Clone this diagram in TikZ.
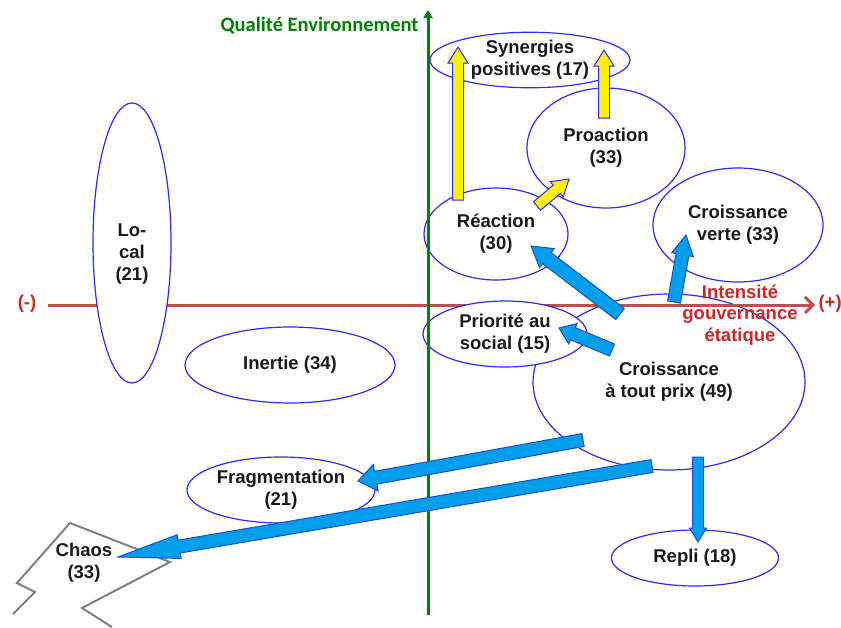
\documentclass[tikz,border=0pt]{standalone}
\usepackage{xcolor}
\usepackage{fontspec}
\setmainfont{Liberation Sans}
\newfontfamily\calibri{Carlito}
\usepackage{tikz}
\usetikzlibrary{arrows.meta, shapes, calc, positioning}

\definecolor{ellblue}{RGB}{45,45,240}
\definecolor{arrowblue}{RGB}{0,158,235}
\definecolor{arrowedge}{RGB}{30,80,200}
\definecolor{axisred}{RGB}{192,80,77}
\definecolor{labred}{RGB}{204,40,40}
\definecolor{axisgreen}{RGB}{0,128,0}

\newcommand{\labfont}{\bfseries\fontsize{18.5}{22}\selectfont}

\tikzset {
    scenario/.style = {
        draw = ellblue,
        fill = white,
        shape = ellipse,
        line width = 1.2pt,
        inner sep = 0pt,
        align = center,
        text = black!90,
        font = \labfont
    },
    lab/.style = {
        align = center,
        text = black!90,
        font = \labfont
    },
    axislab/.style = {
        align = center,
        text = labred,
        font = \labfont
    },
    bolt/.style = {
        draw = gray,
        line width = 2pt,
        line join = miter
    },
    % block arrows : half shaft width, half head width, head length
    ba shaft/.store in = \bashaft,
    ba head/.store in = \bahead,
    ba len/.store in = \balen,
    ba shaft = 6.5pt,
    ba head = 12pt,
    ba len = 18pt,
    bluearrow/.style = {
        arrowbody/.style = {fill=arrowblue, draw=arrowedge, line width=1pt}
    },
    yellowarrow/.style = {
        ba shaft = 5.5pt, ba head = 10pt, ba len = 16pt,
        arrowbody/.style = {fill=yellow, draw=ellblue, line width=1pt}
    }
}

% block arrow from #2 (tail) to #3 (tip)
\newcommand{\blockarrow}[3][]{%
    \begin{scope}[bluearrow, #1]
        \coordinate (ba-neck) at ($(#3)!\balen!(#2)$);
        \path[arrowbody] ($(#2)!\bashaft!90:(#3)$) -- ($(ba-neck)!\bashaft!90:(#3)$)
            -- ($(ba-neck)!\bahead!90:(#3)$) -- (#3)
            -- ($(ba-neck)!\bahead!-90:(#3)$) -- ($(ba-neck)!\bashaft!-90:(#3)$)
            -- ($(#2)!\bashaft!-90:(#3)$) -- cycle;
    \end{scope}}

\begin{document}
\begin{tikzpicture}[x=1pt, y=-1pt]
        \useasboundingbox (0,0) rectangle (841,627);

        % Big ellipse first, then the horizontal axis over it
        \node [scenario, minimum width=272pt, minimum height=176pt] at (669,382)  (tout)      {Croissance\\à tout prix (49)};

        \coordinate (xmin) at (48,305);
        \coordinate (xmax) at (815,305);
        \path [draw=axisred, line width=3pt, -{Straight Barb[length=8pt,width=16pt]}] (xmin) -- (xmax);

        % Scenarios
        \node [scenario, minimum width=164pt, minimum height=66pt]  at (505,334)  (social)    {Priorité au\\social (15)};
        \node [scenario, minimum width=158pt, minimum height=120pt] at (606,148)  (proaction) {Proaction\\(33)};
        \node [scenario, minimum width=144pt, minimum height=92pt]  at (496,234)  (reaction)  {Réaction\\(30)};
        \node [scenario, minimum width=200pt, minimum height=54pt]  at (530,60)   (synergies) {Synergies\\positives (17)};
        \node [scenario, minimum width=170pt, minimum height=114pt] at (738,225)  (verte)     {Croissance\\verte (33)};
        \node [scenario, minimum width=210pt, minimum height=76pt]  at (290,365)  (inertie)   {Inertie (34)};
        \node [scenario, minimum width=188pt, minimum height=66pt]  at (281,490)  (fragment)  {Fragmentation\\(21)};
        \node [scenario, minimum width=167pt, minimum height=56pt]  at (695,558)  (repli)     {Repli (18)};
        \node [scenario, minimum width=78pt, minimum height=280pt,
               label={[lab, yshift=-11pt]center:Lo-\\cal\\(21)}]      at (132,243)  (local)     {};

        % Chaos : lightning outline and its text
        \path [bolt] (13,614) -- (35,592) -- (17,583) -- (70,523) -- (170,562) -- (82,608) -- (112,627);
        \node [lab] at (84,563) (chaos) {Chaos\\(33)};

        % Vertical axis on top
        \coordinate (ymin) at (428,615);
        \coordinate (ymax) at (428,10);
        \path [draw=axisgreen, line width=3pt, -{Triangle[length=8pt,width=9pt]}] (ymin) -- (ymax);

        % Axis labels
        \node [anchor=east, text=axisgreen, font=\calibri\bfseries\fontsize{20.5}{24}\selectfont] at (422,26) (ylab) {Qualité Environnement};
        \node [axislab]               at (27,304)  (minus) {(-)};
        \node [axislab, anchor=west]  at (815,304) (plus)  {(+)};
        \node [axislab, font=\bfseries\fontsize{18.5}{21.5}\selectfont] at (740,315) (xlab) {Intensité\\gouvernance\\étatique};

        % Ends of the block arrows
        \coordinate (t-reac)  at (620,314);  \coordinate (h-reac)  at (531,246);
        \coordinate (t-soc)   at (612,350);  \coordinate (h-soc)   at (559,328);
        \coordinate (t-vert)  at (674,302);  \coordinate (h-vert)  at (686,235);
        \coordinate (t-frag)  at (583,440);  \coordinate (h-frag)  at (358,481);
        \coordinate (t-chaos) at (652,466);  \coordinate (h-chaos) at (118,557);
        \coordinate (t-repli) at (698,457);  \coordinate (h-repli) at (698,542);
        \coordinate (t-syn1)  at (458,200);  \coordinate (h-syn1)  at (458,47);
        \coordinate (t-syn2)  at (604,118);  \coordinate (h-syn2)  at (604,50);
        \coordinate (t-pro)   at (537,206);  \coordinate (h-pro)   at (569,179);

        \blockarrow[ba shaft=7pt, ba head=12pt, ba len=20pt]    {t-reac}{h-reac}
        \blockarrow[ba head=11pt, ba len=15pt]                  {t-soc}{h-soc}
        \blockarrow[ba head=11pt, ba len=20pt]                  {t-vert}{h-vert}
        \blockarrow[ba head=13.5pt, ba len=18pt]                {t-frag}{h-frag}
        \blockarrow[ba head=12pt, ba len=62pt]                  {t-chaos}{h-chaos}
        \blockarrow[ba shaft=5.5pt, ba head=8.5pt, ba len=14pt] {t-repli}{h-repli}
        \blockarrow[yellowarrow]                                {t-syn1}{h-syn1}
        \blockarrow[yellowarrow]                                {t-syn2}{h-syn2}
        \blockarrow[yellowarrow]                                {t-pro}{h-pro}
\end{tikzpicture}
\end{document}
